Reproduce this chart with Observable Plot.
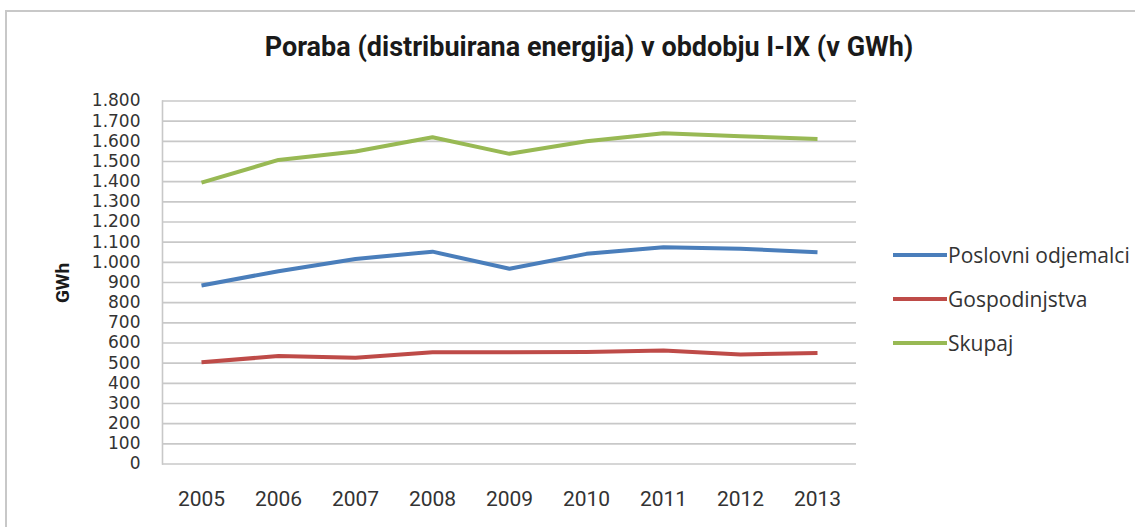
<!DOCTYPE html>
<html>
<head>
<meta charset="utf-8">
<script src="https://cdn.jsdelivr.net/npm/d3@7"></script>
<script src="https://cdn.jsdelivr.net/npm/@observablehq/plot@0.6"></script>
<style>
  html, body { margin: 0; padding: 0; background: #fff; }
  body { width: 1135px; height: 527px; overflow: hidden; position: relative; font-family: Roboto, "Open Sans", sans-serif; color: #333; }
  #frame { position: absolute; left: 5px; top: 10px; width: 1200px; height: 600px; border-left: 2px solid #c8c8c8; border-top: 2px solid #c8c8c8; box-sizing: border-box; }
  #chart { position: absolute; left: 0; top: 0; }
  #title { position: absolute; left: 0; width: 1178px; top: 31px; text-align: center; font-weight: bold; font-size: 27px; color: #1a1a1a; white-space: nowrap; }
  #ylabel { position: absolute; left: 62px; top: 283px; transform: translate(-50%, -50%) rotate(-90deg); font-weight: bold; font-size: 19px; color: #1a1a1a; }
  #legend { position: absolute; left: 893px; top: 233px; }
  .item { display: flex; align-items: center; height: 44px; white-space: nowrap; font-size: 21px; font-family: "Open Sans", sans-serif; color: #333; }
  .sw { width: 54px; height: 4px; margin-right: 1px; }
</style>
</head>
<body>
<div id="frame"></div>
<div id="chart"></div>
<div id="title">Poraba (distribuirana energija) v obdobju I-IX (v GWh)</div>
<div id="ylabel">GWh</div>
<div id="legend"></div>
<script>
const years = ["2005", "2006", "2007", "2008", "2009", "2010", "2011", "2012", "2013"];
const seriesNames = ["Poslovni odjemalci", "Gospodinjstva", "Skupaj"];
const poslovni = [885, 956, 1017, 1053, 968, 1042, 1075, 1067, 1050];
const gospodinjstva = [505, 535, 527, 554, 554, 555, 563, 543, 551];
const skupaj = [1395, 1508, 1550, 1620, 1538, 1600, 1640, 1625, 1612];
const yTicks = d3.range(0, 1801, 100);
const colors = ["#4a7ebb", "#be4b48", "#98b954"];

const seriesValues = [poslovni, gospodinjstva, skupaj];
const data = [];
seriesNames.forEach((name, i) => {
  years.forEach((y, j) => data.push({ series: name, year: y, value: seriesValues[i][j] }));
});

const fmt = d => d3.format(",")(d).replace(/,/g, ".");

const chart = Plot.plot({
  width: 1135,
  height: 527,
  marginLeft: 162,
  marginRight: 279,
  marginTop: 100.5,
  marginBottom: 63.5,
  style: { fontFamily: "Roboto, 'Open Sans', sans-serif", background: "transparent", color: "#333" },
  x: { type: "point", domain: years, padding: 0.5, label: null },
  y: { domain: [0, 1800], label: null },
  color: { domain: seriesNames, range: colors },
  marks: [
    Plot.ruleY(yTicks, { stroke: "#c8c8c8", strokeWidth: 1.6 }),
    Plot.frame({ anchor: "left", stroke: "#c8c8c8", strokeWidth: 1.6 }),
    Plot.axisY({ ticks: yTicks, tickFormat: fmt, tickSize: 0, tickPadding: 22, fontSize: 17, fontFamily: "'DejaVu Sans', sans-serif", label: null }),
    Plot.axisX({ tickSize: 0, tickPadding: 27, fontSize: 21, label: null }),
    Plot.line(data, { x: "year", y: "value", z: "series", stroke: "series", strokeWidth: 4, strokeLinejoin: "round", strokeLinecap: "butt" })
  ]
});
document.getElementById("chart").appendChild(chart);

const legend = document.getElementById("legend");
seriesNames.forEach((name, i) => {
  const item = document.createElement("div");
  item.className = "item";
  const sw = document.createElement("div");
  sw.className = "sw";
  sw.style.background = colors[i];
  const t = document.createElement("span");
  t.textContent = name;
  item.appendChild(sw);
  item.appendChild(t);
  legend.appendChild(item);
});
</script>
</body>
</html>
